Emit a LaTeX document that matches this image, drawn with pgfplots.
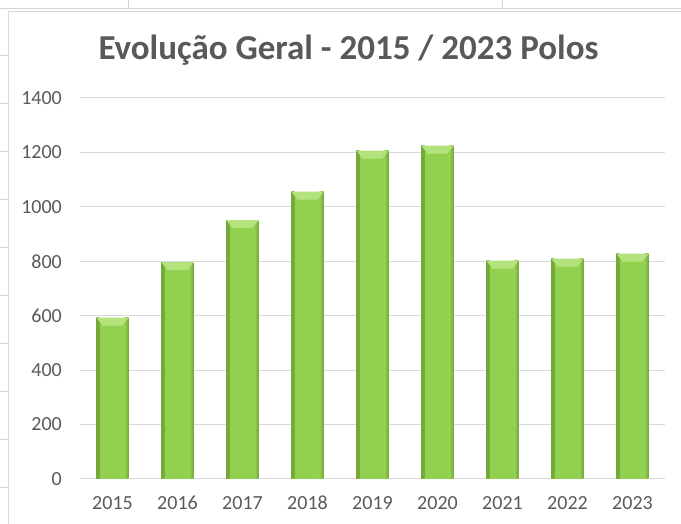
\documentclass[border=0pt]{standalone}
\usepackage{pgfplots}
\pgfplotsset{compat=1.18}
\usepackage{fontspec}
\setmainfont{Carlito}
\definecolor{txt}{HTML}{595959}
\definecolor{gridc}{HTML}{D9D9D9}
\definecolor{sheet}{HTML}{D4D4D4}
\definecolor{barg}{HTML}{92D050}
\definecolor{bardark}{HTML}{74A83A}
\definecolor{barlight}{HTML}{B4E37E}
\pgfplotsset{bevbar/.style={draw=none, fill=barg, bar shift=0pt, forget plot,
  path picture={
    \shade[path picture={}, left color=bardark, right color=barg] (path picture bounding box.south west) rectangle ([xshift=3pt]path picture bounding box.north west);
    \shade[path picture={}, left color=barg, right color=bardark] ([xshift=-4pt]path picture bounding box.south east) rectangle (path picture bounding box.north east);
    \fill[path picture={}, barlight] (path picture bounding box.north west) -- (path picture bounding box.north east) -- ([xshift=-6pt,yshift=-8pt]path picture bounding box.north east) -- ([xshift=6pt,yshift=-8pt]path picture bounding box.north west) -- cycle;
  }}}
\begin{document}
\begin{tikzpicture}
\begin{axis}[
  name=ax,
  at={(0pt,0pt)}, anchor=south west,
  scale only axis, width=585pt, height=381pt,
  ymin=0, ymax=1400, xmin=-0.5, xmax=8.5,
  ybar, bar width=32pt,
  xtick={0,...,8},
  xticklabels={2015,2016,2017,2018,2019,2020,2021,2022,2023},
  ytick={0,200,...,1400},
  ymajorgrids, grid style={gridc, line width=1pt},
  axis x line*=bottom, axis y line*=left,
  y axis line style={draw=none},
  x axis line style={gridc, line width=1pt, -},
  major tick length=0pt, tick style={draw=none},
  /pgf/number format/assume math mode=true,
  /pgf/number format/1000 sep={},
  tick label style={font=\fontsize{20}{22}\selectfont, text=txt, inner sep=0pt},
  y tick label style={xshift=-18pt},
  x tick label style={yshift=-17pt},
  clip=false,
]
\addplot[bevbar] coordinates {(0,593)};
\addplot[bevbar] coordinates {(1,797)};
\addplot[bevbar] coordinates {(2,951)};
\addplot[bevbar] coordinates {(3,1056)};
\addplot[bevbar] coordinates {(4,1207)};
\addplot[bevbar] coordinates {(5,1225)};
\addplot[bevbar] coordinates {(6,802)};
\addplot[bevbar] coordinates {(7,810)};
\addplot[bevbar] coordinates {(8,828)};
\end{axis}
\begin{scope}[x=1pt,y=1pt,shift={(-80pt,-45pt)}]
\useasboundingbox (0,0) rectangle (681,524);
\foreach \yy in {56,104,152,200,248,296,344,392,440,488}
  \draw[sheet, line width=1pt] (0,524-\yy) -- (8,524-\yy);
\draw[sheet, line width=1pt] (0,515) -- (681,515);
\draw[sheet, line width=1pt] (129,524) -- (129,515);
\draw[sheet, line width=1pt] (502,524) -- (502,515);
\draw[gridc, line width=1pt] (8.5,0) -- (8.5,512.5) -- (681,512.5);
\node[anchor=base, font=\bfseries\fontsize{35}{38}\selectfont, text=txt] at (348.5,464) {Evolução Geral - 2015 / 2023 Polos};
\end{scope}
\end{tikzpicture}
\end{document}
